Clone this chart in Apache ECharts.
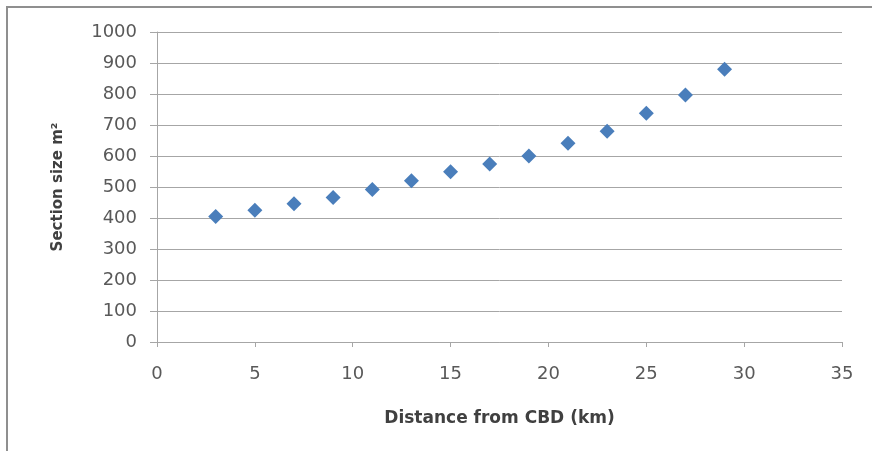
<!DOCTYPE html>
<html>
<head>
<meta charset="utf-8">
<script src="https://cdn.jsdelivr.net/npm/echarts@6/dist/echarts.min.js"></script>
<style>
  html, body { margin: 0; padding: 0; background: #ffffff; }
  #chart { width: 872px; height: 451px; }
</style>
</head>
<body>
<div id="chart"></div>
<script>
// Distance from the CBD (km) and the matching section size (m²)
const distanceKm = [3, 5, 7, 9, 11, 13, 15, 17, 19, 21, 23, 25, 27, 29];
const sectionSize = [405, 425, 446, 466, 492, 520, 549, 574, 600, 641, 680, 738, 797, 880];

const xTicks = { min: 0, max: 35, step: 5 };
const yTicks = { min: 0, max: 1000, step: 100 };

const points = distanceKm.map((d, i) => [d, sectionSize[i]]);

const textColor = '#595959';
const lineColor = '#a6a6a6';
const font = 'DejaVu Sans';

const chart = echarts.init(document.getElementById('chart'), null, { renderer: 'canvas' });
chart.setOption({
  backgroundColor: '#ffffff',
  animation: false,
  graphic: [{
    type: 'rect',
    shape: { x: 7, y: 7, width: 870, height: 450 },
    style: { fill: 'none', stroke: '#8f8f8f', lineWidth: 2 }
  }],
  grid: { left: 157, right: 30, top: 32, bottom: 109 },
  xAxis: {
    type: 'value',
    min: xTicks.min, max: xTicks.max, interval: xTicks.step,
    name: 'Distance from CBD (km)',
    nameLocation: 'middle',
    nameGap: 68,
    nameTextStyle: { fontFamily: font, fontWeight: 'bold', fontSize: 17, color: '#404040' },
    axisLine: { show: true, lineStyle: { color: lineColor, width: 1 } },
    axisTick: { show: true, inside: false, length: 5, lineStyle: { color: lineColor } },
    axisLabel: { margin: 23, fontFamily: font, fontSize: 18, color: textColor },
    splitLine: { show: false }
  },
  yAxis: {
    type: 'value',
    min: yTicks.min, max: yTicks.max, interval: yTicks.step,
    name: 'Section size m²',
    nameLocation: 'middle',
    nameRotate: 90,
    nameGap: 91,
    nameTextStyle: { fontFamily: font, fontWeight: 'bold', fontSize: 15, color: '#404040' },
    axisLine: { show: true, lineStyle: { color: lineColor, width: 1 } },
    axisTick: { show: true, inside: false, length: 7, lineStyle: { color: lineColor } },
    axisLabel: { margin: 20, fontFamily: font, fontSize: 18, color: textColor, formatter: v => String(v) },
    splitLine: { show: true, lineStyle: { color: lineColor, width: 1 } }
  },
  series: [{
    type: 'scatter',
    data: points,
    symbol: 'diamond',
    symbolSize: [15, 15],
    itemStyle: { color: '#4a7ebb', opacity: 1 }
  }]
});
</script>
</body>
</html>
